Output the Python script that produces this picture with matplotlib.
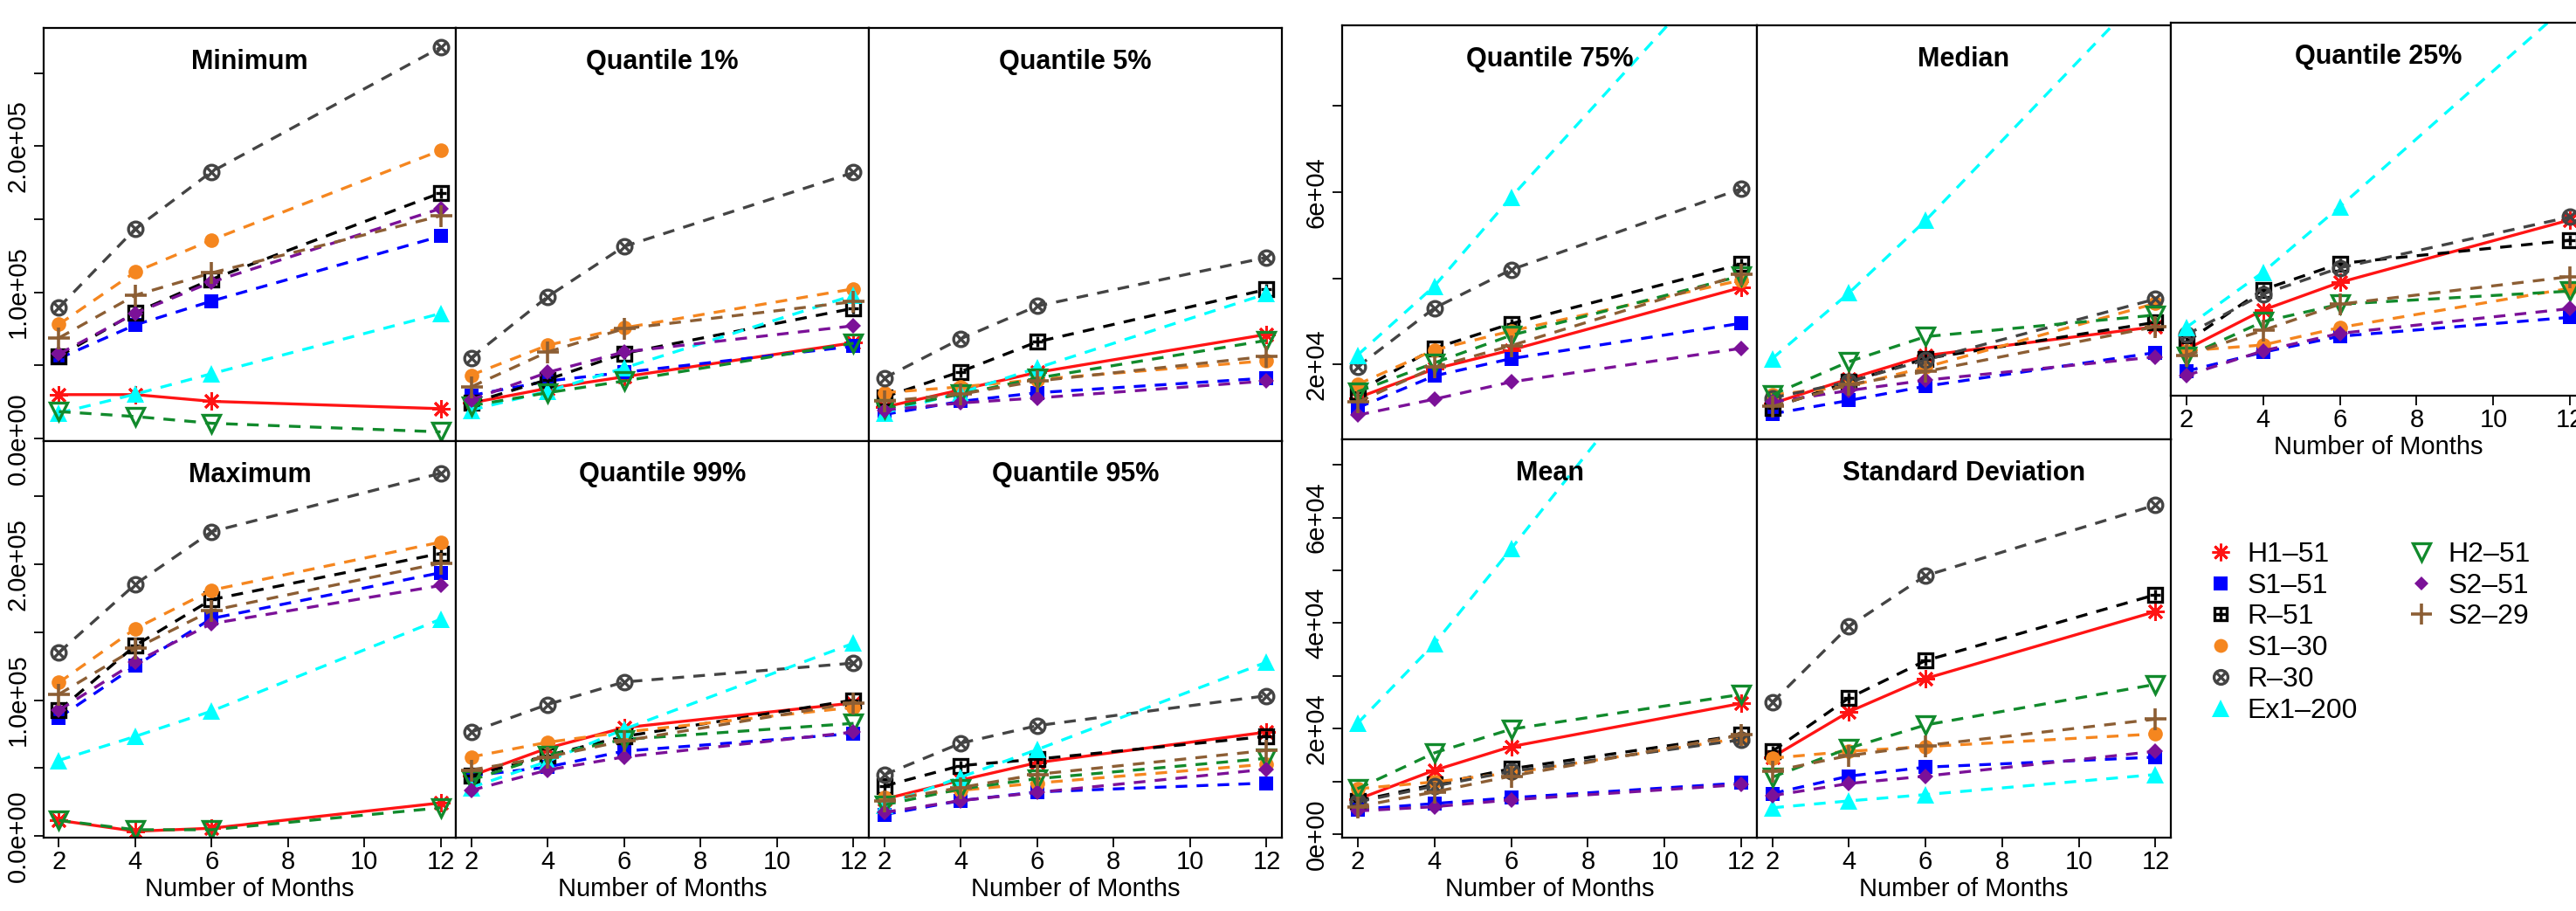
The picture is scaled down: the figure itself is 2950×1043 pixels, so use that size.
import matplotlib
matplotlib.use("Agg")
import matplotlib.pyplot as plt
from matplotlib.lines import Line2D
from matplotlib.legend_handler import HandlerTuple

plt.rcParams["font.family"] = ["Liberation Sans", "DejaVu Sans"]

# ---------------------------------------------------------------------------
# Data; rows follow SERIES order
# ---------------------------------------------------------------------------
MONTHS = [2, 4, 6, 12]
SERIES = ["H1-51", "S1-51", "R-51", "S1-30", "R-30", "Ex1-200",
          "H2-51", "S2-51", "S2-29"]

minimum = [
    [29900, 29900, 25300, 20300],
    [54700, 77600, 93900, 138300],
    [56100, 86000, 108800, 167900],
    [78000, 113800, 135700, 197000],
    [89600, 143300, 182400, 267500],
    [17300, 30200, 44200, 85400],
    [18300, 14900, 10300, 4400],
    [57700, 85600, 106900, 157200],
    [68700, 97900, 113200, 152200],
]
q01 = [
    [24200, 34200, 42100, 65400],
    [29300, 39200, 45100, 63000],
    [24200, 40200, 58100, 89000],
    [43200, 63700, 75600, 102300],
    [55100, 96900, 131300, 181900],
    [19300, 32200, 48100, 97900],
    [22300, 31200, 39200, 65100],
    [26300, 45100, 59100, 77000],
    [35200, 59100, 75000, 93500],
]
q05 = [
    [21300, 33200, 45100, 71100],
    [16300, 25300, 31200, 41200],
    [28200, 45600, 66000, 101900],
    [31200, 35200, 40200, 53100],
    [41200, 68100, 90500, 123800],
    [17300, 31200, 48100, 98900],
    [20300, 30200, 41200, 67000],
    [19300, 24200, 27600, 39200],
    [25300, 30200, 39200, 56100],
]
maximum = [
    [11600, 3600, 5800, 24400],
    [87100, 125100, 160000, 193600],
    [92500, 140100, 173900, 207800],
    [112900, 152500, 180800, 216100],
    [135000, 185100, 223800, 266700],
    [55700, 73300, 91900, 159400],
    [11600, 4700, 4700, 20800],
    [92500, 127900, 156200, 184200],
    [104300, 137900, 165800, 200700],
]
q99 = [
    [44300, 64700, 79700, 97900],
    [44300, 50800, 62500, 75400],
    [44300, 59300, 73300, 100000],
    [58200, 69000, 76500, 94700],
    [76500, 96800, 113300, 127200],
    [35700, 55000, 78600, 141800],
    [41100, 59300, 71100, 82900],
    [33600, 48600, 58200, 76500],
    [48600, 58200, 70000, 97900],
]
q95 = [
    [27200, 41100, 54000, 76500],
    [15800, 26100, 32500, 39000],
    [36800, 51800, 56600, 73300],
    [28300, 33600, 39000, 52900],
    [45000, 68300, 81200, 103200],
    [22900, 43300, 63600, 127900],
    [22900, 34700, 42200, 57200],
    [17500, 26100, 32100, 49200],
    [26100, 35700, 45400, 63000],
]
q75 = [
    [12300, 19000, 23400, 37900],
    [10000, 17400, 21400, 29600],
    [13700, 23800, 29500, 43300],
    [15400, 23400, 27800, 39600],
    [19500, 33100, 42000, 60800],
    [22200, 38200, 58800, 117500],
    [13700, 20400, 26800, 40600],
    [8300, 12000, 16000, 23800],
    [11300, 19400, 24400, 40900],
]
median = [
    [11000, 16700, 22100, 28800],
    [8600, 11700, 15000, 22800],
    [10000, 16000, 21400, 29800],
    [13000, 15000, 19400, 34200],
    [12300, 16000, 21100, 35200],
    [21400, 36600, 53400, 109000],
    [13000, 20700, 26500, 31500],
    [11300, 14000, 16400, 21800],
    [10300, 15400, 18400, 28800],
]
q25 = [
    [14540, 24650, 31780, 47870],
    [8930, 13800, 17910, 22790],
    [16410, 29890, 36630, 42630],
    [14160, 15670, 20160, 30270],
    [18290, 28770, 35510, 48630],
    [20160, 34390, 51240, 103700],
    [12680, 21660, 26160, 29530],
    [7800, 14160, 18660, 25040],
    [13040, 19420, 26160, 33260],
]
mean = [
    [6600, 12100, 16600, 24800],
    [4700, 5800, 6900, 9700],
    [6300, 9400, 12400, 18800],
    [8600, 9900, 11600, 18200],
    [6100, 9100, 11900, 17900],
    [21000, 36100, 54100, 109000],
    [8600, 15400, 19900, 26500],
    [4400, 5200, 6500, 9400],
    [5200, 8000, 11000, 18800],
]
std_dev = [
    [14600, 23200, 29500, 42200],
    [7700, 11000, 12700, 14600],
    [15700, 25800, 32900, 45400],
    [14400, 15700, 16600, 19000],
    [25000, 39400, 49000, 62400],
    [5000, 6300, 7500, 11300],
    [10800, 16300, 20700, 28400],
    [7300, 9600, 11000, 15700],
    [11900, 14900, 16800, 21800],
]

# ---------------------------------------------------------------------------
# Styles: colour, line style, list of (marker, size, edge width, filled)
# ---------------------------------------------------------------------------
STYLES = {
    "H1-51":   ("#FF1414", "-",  [((8, 2, 0), 15, 2.0, True)]),
    "S1-51":   ("#0000FF", "--", [("s", 12, 0.0, True)]),
    "R-51":    ("#000000", "--", [("s", 11, 2.4, False), ("+", 9, 2.4, True)]),
    "S1-30":   ("#F5861F", "--", [("o", 12, 0.0, True)]),
    "R-30":    ("#444444", "--", [("o", 12, 2.4, False), ("x", 8, 2.4, True)]),
    "Ex1-200": ("#00FFFF", "--", [("^", 15, 0.0, True)]),
    "H2-51":   ("#118A2C", "--", [("v", 15, 2.4, False)]),
    "S2-51":   ("#7B1198", "--", [("D", 9, 0.0, True)]),
    "S2-29":   ("#8C5E34", "--", [("+", 18, 2.6, True)]),
}
DASH = (0, (4.0, 3.2))

W, H = 2950, 1043
DPI = 100


def box(x0, x1, ytop, ybot):
    return [x0 / W, 1 - ybot / H, (x1 - x0) / W, (ybot - ytop) / H]


def draw_panel(ax, data):
    for name, vals in zip(SERIES, data):
        color, ls, marks = STYLES[name]
        lst = ls if ls == "-" else DASH
        first = True
        for mk, ms, mew, filled in marks:
            ax.plot(MONTHS, vals,
                    linestyle=lst if first else "none",
                    linewidth=2.4, color=color,
                    marker=mk, markersize=ms, markeredgewidth=mew,
                    markerfacecolor=color if filled else "none",
                    markeredgecolor=color)
            first = False


def style_axes(ax, title, ylim, ytitle_off, xticks=False, yticks=None):
    ax.set_xlim(1.6, 12.4)
    ax.set_ylim(*ylim)
    for s in ax.spines.values():
        s.set_linewidth(1.6)
    if xticks:
        ax.set_xticks([2, 4, 6, 8, 10, 12])
        ax.set_xlabel("Number of Months", fontsize=21, labelpad=2)
        ax.tick_params(axis="x", direction="out", length=8, width=1.3,
                       labelsize=21, pad=2)
    else:
        ax.tick_params(axis="x", bottom=False, labelbottom=False)
    if yticks is not None:
        vals, labs = yticks
        ax.set_yticks(vals)
        ax.set_yticklabels(labs)
        ax.tick_params(axis="y", direction="out", length=8, width=1.3,
                       labelsize=21, pad=3, labelrotation=90)
        for t in ax.get_yticklabels():
            t.set_va("center")
    else:
        ax.tick_params(axis="y", left=False, labelleft=False)
    ax.text(0.5, ytitle_off, title, transform=ax.transAxes, ha="center",
            va="center", fontsize=22, fontweight="bold")


fig = plt.figure(figsize=(W / DPI, H / DPI), dpi=DPI)

LEFT_X = [50, 522, 995, 1468]
RIGHT_X = [1537, 2012, 2486, 2961]

ylim_lt = (-1600, 280800)
ylim_lb = (-1300, 290700)
ylim_rt = (2630, 98580)
ylim_rb = (-660, 74800)

yt_left = ([0, 5e4, 1e5, 1.5e5, 2e5, 2.5e5],
           ["0.0e+00", "", "1.0e+05", "", "2.0e+05", ""])
yt_rt = ([2e4, 4e4, 6e4, 8e4], ["2e+04", "", "6e+04", ""])
yt_rb = ([0, 1e4, 2e4, 3e4, 4e4, 5e4, 6e4, 7e4],
         ["0e+00", "", "2e+04", "", "4e+04", "", "6e+04", ""])

panels = [
    # (data, title, x0, x1, ytop, ybot, ylim, xticks, yticks)
    (minimum, "Minimum", LEFT_X[0], LEFT_X[1], 32, 504.5, ylim_lt, False, yt_left),
    (q01, "Quantile 1%", LEFT_X[1], LEFT_X[2], 32, 504.5, ylim_lt, False, None),
    (q05, "Quantile 5%", LEFT_X[2], LEFT_X[3], 32, 504.5, ylim_lt, False, None),
    (maximum, "Maximum", LEFT_X[0], LEFT_X[1], 504.5, 959.3, ylim_lb, True, yt_left),
    (q99, "Quantile 99%", LEFT_X[1], LEFT_X[2], 504.5, 959.3, ylim_lb, True, None),
    (q95, "Quantile 95%", LEFT_X[2], LEFT_X[3], 504.5, 959.3, ylim_lb, True, None),
    (q75, "Quantile 75%", RIGHT_X[0], RIGHT_X[1], 29.3, 503.3, ylim_rt, False, yt_rt),
    (median, "Median", RIGHT_X[1], RIGHT_X[2], 29.3, 503.3, ylim_rt, False, None),
    (q25, "Quantile 25%", RIGHT_X[2], RIGHT_X[3], 26, 453, ylim_rt, True, None),
    (mean, "Mean", RIGHT_X[0], RIGHT_X[1], 503.3, 959, ylim_rb, True, yt_rb),
    (std_dev, "Standard Deviation", RIGHT_X[1], RIGHT_X[2], 503.3, 959, ylim_rb, True, None),
]

for data, title, x0, x1, yt, yb, ylim, xt, ytk in panels:
    ax = fig.add_axes(box(x0, x1, yt, yb))
    draw_panel(ax, data)
    style_axes(ax, title, ylim, 1 - 39 / (yb - yt), xticks=xt, yticks=ytk)


# ---------------------------------------------------------------------------
# Legend (two columns, markers only; composite markers are overlaid)
# ---------------------------------------------------------------------------
def handles_for(name):
    color, _, marks = STYLES[name]
    hs = []
    for mk, ms, mew, filled in marks:
        hs.append(Line2D([], [], linestyle="none", color=color, marker=mk,
                         markersize=ms * 0.95, markeredgewidth=mew,
                         markerfacecolor=color if filled else "none",
                         markeredgecolor=color))
    return tuple(hs)


col1 = SERIES[:6]
col2 = SERIES[6:]
for names, ax_x in [(col1, 2527), (col2, 2757)]:
    fig.legend([handles_for(n) for n in names],
               [n.replace("-", "\u2013") for n in names],
               handler_map={tuple: HandlerTuple(ndivide=1, pad=0)},
               loc="upper left", bbox_to_anchor=(ax_x / W, 1 - 620 / H),
               frameon=False, fontsize=23, handlelength=1.0,
               handletextpad=0.45, labelspacing=0.18, borderpad=0,
               borderaxespad=0)

fig.savefig("out.png", dpi=DPI)
